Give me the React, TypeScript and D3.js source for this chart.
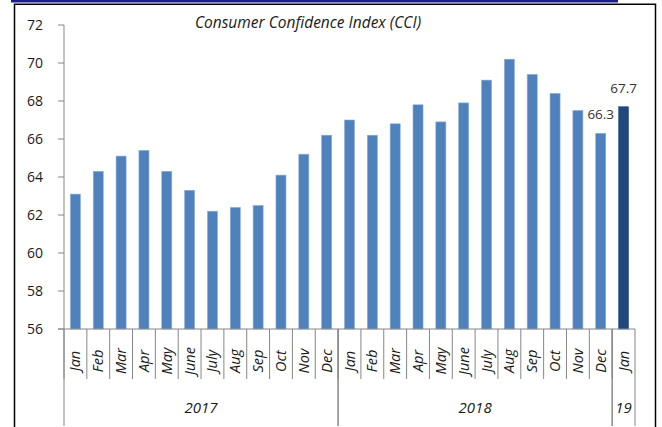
import React, { FC, useMemo } from "react";
import { scaleBand, scaleLinear } from "d3";

const months = ["Jan", "Feb", "Mar", "Apr", "May", "June", "July", "Aug", "Sep", "Oct", "Nov", "Dec"];
const values2017 = [63.1, 64.3, 65.1, 65.4, 64.3, 63.3, 62.2, 62.4, 62.5, 64.1, 65.2, 66.2];
const values2018 = [67.0, 66.2, 66.8, 67.8, 66.9, 67.9, 69.1, 70.2, 69.4, 68.4, 67.5, 66.3];
const values2019 = [67.7];
const months2019 = ["Jan"];
const years = ["2017", "2018", "19"];
const yTicks = [56, 58, 60, 62, 64, 66, 68, 70, 72];
// only the last two bars carry a value label
const labelled = ["2018-11", "2019-0"];

const W = 662;
const H = 427;
const FONT = "'Open Sans', 'DejaVu Sans', sans-serif";

interface Row {
  key: string;
  month: string;
  value: number;
  latest: boolean;
}

const App: FC = () => {
  const rows: Row[] = useMemo(
    () => [
      ...values2017.map((v, i) => ({ key: `2017-${i}`, month: months[i], value: v, latest: false })),
      ...values2018.map((v, i) => ({ key: `2018-${i}`, month: months[i], value: v, latest: false })),
      ...values2019.map((v, i) => ({ key: `2019-${i}`, month: months2019[i], value: v, latest: true })),
    ],
    []
  );

  const x = scaleBand<string>()
    .domain(rows.map((r) => r.key))
    .range([64, 635])
    .paddingInner(0.56)
    .paddingOuter(0.28);
  const y = scaleLinear().domain([56, 72]).range([329, 25]);

  const step = x.step();
  const center = (k: string) => x(k)! + x.bandwidth() / 2;
  const slotStart = (k: string) => center(k) - step / 2;

  const groups = [
    { label: years[0], keys: rows.slice(0, 12).map((r) => r.key) },
    { label: years[1], keys: rows.slice(12, 24).map((r) => r.key) },
    { label: years[2], keys: rows.slice(24).map((r) => r.key) },
  ];

  const axisColor = "#868686";

  return (
    <svg
      width={W}
      height={H}
      style={{ position: "absolute", left: 0, top: 0, background: "#fff" }}
      fontFamily={FONT}
    >
      <rect x={11} y={0} width={607} height={2.5} fill="#1c1c8a" />
      <path d="M14.5,427 V4.2 H655.5 V427" fill="none" stroke="#000" strokeWidth={1.5} />

      <text x={308} y={28} textAnchor="middle" fontSize={15.5} fontStyle="italic" fill="#1a1a1a">
        Consumer Confidence Index (CCI)
      </text>

      {/* y axis */}
      <line x1={64} x2={64} y1={y(72)} y2={y(56)} stroke={axisColor} />
      {yTicks.map((t) => (
        <g key={t}>
          <line x1={58} x2={64} y1={y(t)} y2={y(t)} stroke={axisColor} />
          <text x={43} y={y(t)} dy="0.35em" textAnchor="end" fontSize={14} fill="#1a1a1a">
            {t}
          </text>
        </g>
      ))}

      {/* bars */}
      {rows.map((r) => (
        <rect
          key={r.key}
          x={x(r.key)}
          y={y(r.value)}
          width={x.bandwidth()}
          height={y(56) - y(r.value)}
          fill={r.latest ? "#1F497D" : "#4F81BD"}
          stroke={r.latest ? "#3a5f90" : "#8fb0db"}
          strokeWidth={0.6}
        />
      ))}

      {rows
        .filter((r) => labelled.includes(r.key))
        .map((r) => (
          <text key={r.key} x={center(r.key)} y={y(r.value) - 14} textAnchor="middle" fontSize={13.5} fill="#333">
            {r.value.toFixed(1)}
          </text>
        ))}

      {/* x axis, two levels */}
      <line x1={58} x2={635} y1={329} y2={329} stroke={axisColor} />
      {rows.map((r) => (
        <g key={r.key}>
          <line x1={slotStart(r.key)} x2={slotStart(r.key)} y1={329} y2={379} stroke={axisColor} />
          <text
            transform={`translate(${center(r.key) + 5},361) rotate(-90)`}
            textAnchor="middle"
            fontSize={14.5}
            fontStyle="italic"
            fill="#1a1a1a"
          >
            {r.month}
          </text>
        </g>
      ))}
      {groups.map((g) => {
        const x0 = slotStart(g.keys[0]);
        const x1 = slotStart(g.keys[g.keys.length - 1]) + step;
        return (
          <g key={g.label}>
            <line x1={x0} x2={x0} y1={329} y2={426} stroke={axisColor} />
            <line x1={x1} x2={x1} y1={329} y2={426} stroke={axisColor} />
            <text x={(x0 + x1) / 2} y={413} textAnchor="middle" fontSize={15} fontStyle="italic" fill="#1a1a1a">
              {g.label}
            </text>
          </g>
        );
      })}
    </svg>
  );
};

export default App;
